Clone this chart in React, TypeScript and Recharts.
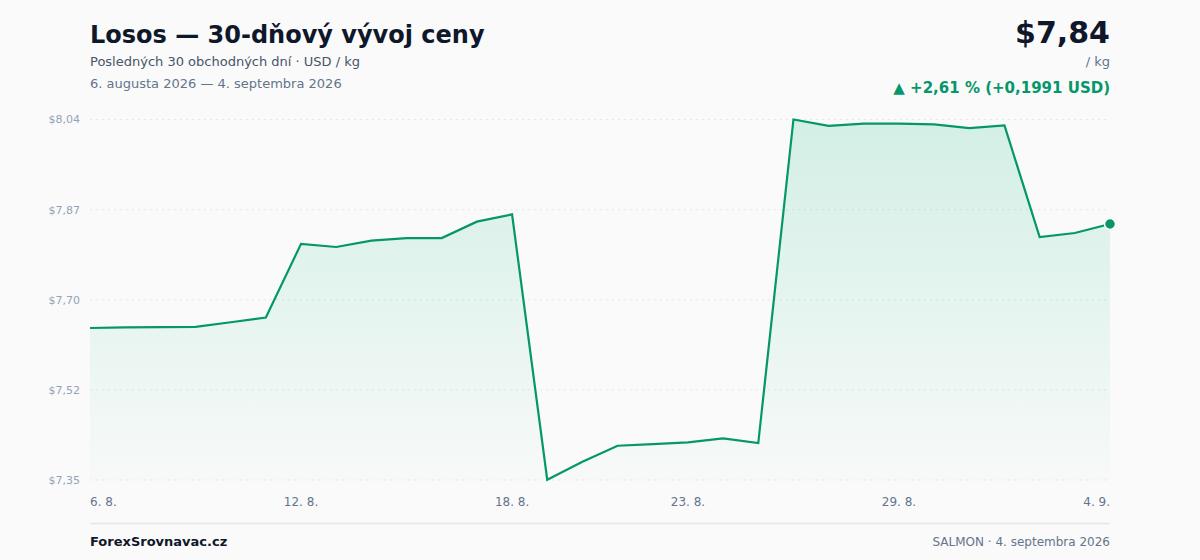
import React from "react";
import { AreaChart, Area, XAxis, YAxis, CartesianGrid } from "recharts";

const days = [
  "6. 8.", "7. 8.", "8. 8.", "9. 8.", "10. 8.", "11. 8.", "12. 8.", "13. 8.", "14. 8.", "15. 8.",
  "16. 8.", "17. 8.", "18. 8.", "19. 8.", "20. 8.", "21. 8.", "22. 8.", "23. 8.", "24. 8.", "25. 8.",
  "26. 8.", "27. 8.", "28. 8.", "29. 8.", "30. 8.", "31. 8.", "1. 9.", "2. 9.", "3. 9.", "4. 9.",
];

const prices = [
  7.6409, 7.642, 7.6425, 7.643, 7.652, 7.661, 7.802, 7.796, 7.808, 7.813,
  7.813, 7.8445, 7.8585, 7.3505, 7.385, 7.4156, 7.4188, 7.422, 7.4297, 7.4207,
  8.04, 8.028, 8.032, 8.032, 8.0305, 8.0234, 8.0286, 7.815, 7.8227, 7.84,
];

const xTickDays = ["6. 8.", "12. 8.", "18. 8.", "23. 8.", "29. 8.", "4. 9."];
const yTicks = [7.35, 7.5225, 7.695, 7.8675, 8.04];
const yTickLabels = ["$7,35", "$7,52", "$7,70", "$7,87", "$8,04"];

const data = days.map((d, i) => ({ i, day: d, price: prices[i] }));
const xTicks = xTickDays.map((d) => days.indexOf(d));

const GREEN = "#059669";
const FONT = "'DejaVu Sans', sans-serif";

const XTick = (props: any) => {
  const { x, y, payload, index } = props;
  const anchor = index === 0 ? "start" : index === xTicks.length - 1 ? "end" : "middle";
  return (
    <text x={x} y={y} dy="0.71em" textAnchor={anchor} fill="#64748b" fontSize={12} fontFamily={FONT}>
      {days[payload.value]}
    </text>
  );
};

const LastDot = (props: any) => {
  const { cx, cy, index } = props;
  if (index !== prices.length - 1) return <g key={`d${index}`} />;
  return <circle key={`d${index}`} cx={cx} cy={cy} r={5.5} fill={GREEN} stroke="#ffffff" strokeWidth={1.5} />;
};

export default function App() {
  return (
    <div
      style={{
        position: "fixed",
        left: 0,
        top: 0,
        width: 1200,
        height: 560,
        background: "#fafafa",
        fontFamily: FONT,
        overflow: "hidden",
      }}
    >
      <div style={{ position: "absolute", left: 0, top: 0 }}>
        <AreaChart width={1200} height={560} data={data} margin={{ top: 119.5, right: 90, bottom: 50, left: 30 }}>
          <defs>
            <linearGradient id="fillG" x1="0" y1="0" x2="0" y2="1">
              <stop offset="0%" stopColor="#10b981" stopOpacity={0.28} />
              <stop offset="100%" stopColor="#10b981" stopOpacity={0.02} />
            </linearGradient>
          </defs>
          <CartesianGrid vertical={false} stroke="#e5e7eb" strokeDasharray="2 4" />
          <XAxis
            dataKey="i"
            type="number"
            domain={[0, days.length - 1]}
            ticks={xTicks}
            tick={<XTick />}
            axisLine={false}
            tickLine={false}
            tickMargin={11}
            height={30}
            interval={0}
          />
          <YAxis
            type="number"
            domain={[yTicks[0], yTicks[yTicks.length - 1]]}
            ticks={yTicks}
            tickFormatter={(v: number) => yTickLabels[yTicks.indexOf(v)]}
            tick={{ fill: "#94a3b8", fontSize: 11, fontFamily: FONT }}
            axisLine={false}
            tickLine={false}
            tickMargin={4}
            width={60}
            interval={0}
          />
          <Area
            type="linear"
            dataKey="price"
            stroke={GREEN}
            strokeWidth={2.2}
            fill="url(#fillG)"
            dot={<LastDot />}
            activeDot={false}
            isAnimationActive={false}
          />
        </AreaChart>
      </div>
      <svg
        width={1200}
        height={560}
        style={{ position: "absolute", left: 0, top: 0, pointerEvents: "none" }}
        fontFamily={FONT}
      >
        <text x={90} y={42.5} fontSize={24} fontWeight="bold" fill="#0f172a">
          Losos — 30-dňový vývoj ceny
        </text>
        <text x={90} y={66} fontSize={13} fill="#475569">
          Posledných 30 obchodných dní · USD / kg
        </text>
        <text x={90} y={87.5} fontSize={13} fill="#64748b">
          6. augusta 2026 — 4. septembra 2026
        </text>
        <text x={1110} y={43} fontSize={30} fontWeight="bold" fill="#0f172a" textAnchor="end">
          $7,84
        </text>
        <text x={1110} y={66} fontSize={13} fill="#64748b" textAnchor="end">
          / kg
        </text>
        <text x={1110} y={92.5} fontSize={15} fontWeight="bold" fill={GREEN} textAnchor="end">
          ▲ +2,61 % (+0,1991 USD)
        </text>
        <line x1={90} x2={1110} y1={523.5} y2={523.5} stroke="#e5e7eb" strokeWidth={1.5} />
        <text x={90} y={545.5} fontSize={13} fontWeight="bold" fill="#0f172a">
          ForexSrovnavac.cz
        </text>
        <text x={1110} y={545.5} fontSize={12} fill="#64748b" textAnchor="end">
          SALMON · 4. septembra 2026
        </text>
      </svg>
    </div>
  );
}
